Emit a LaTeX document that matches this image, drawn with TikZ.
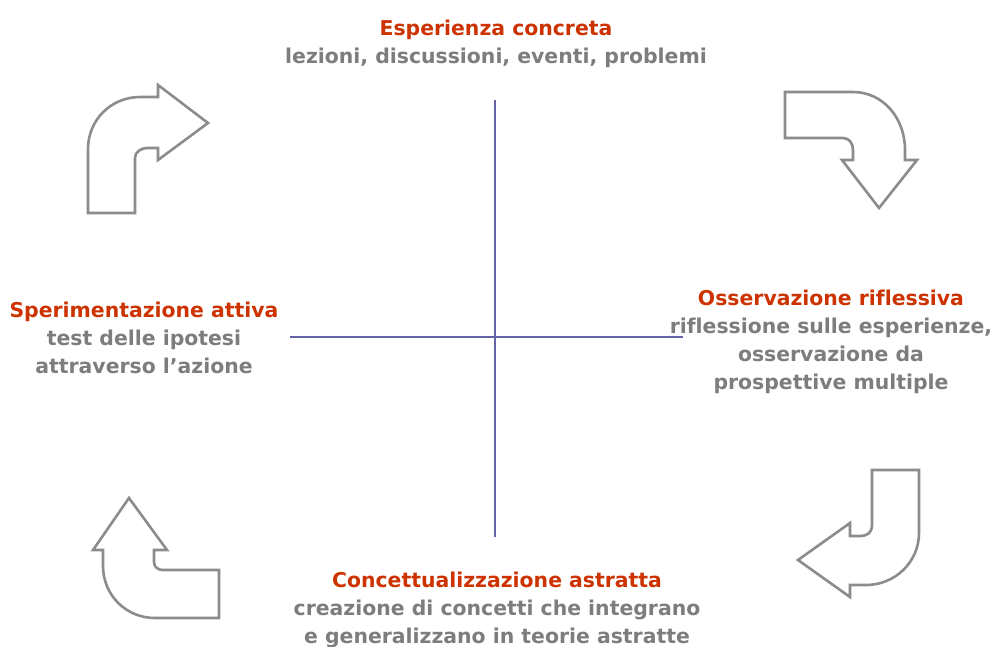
\documentclass[tikz,border=0pt]{standalone}
\usepackage{fontspec}
\setmainfont[Ligatures=NoCommon]{DejaVu Sans}
\definecolor{titlered}{RGB}{204,51,0}
\definecolor{bodygray}{RGB}{125,125,125}
\definecolor{axisblue}{RGB}{100,100,165}
\definecolor{arrowgray}{RGB}{140,140,140}
\begin{document}
\begin{tikzpicture}[x=1pt,y=-1pt,
  titletext/.style={anchor=base,inner sep=0pt,text=titlered,font=\fontsize{20.4}{28}\selectfont\bfseries},
  bodytext/.style={anchor=base,inner sep=0pt,text=bodygray,font=\fontsize{20.4}{28}\selectfont\bfseries},
  axisline/.style={draw=axisblue,line width=2pt},
  cyclearrow/.style={draw=arrowgray,fill=white,line width=2.6pt,line join=miter}]
\useasboundingbox (0,0) rectangle (992,646);
\fill[white] (0,0) rectangle (992,646);

% axes
\coordinate (vtop) at (495,100);
\coordinate (vbot) at (495,537);
\coordinate (hleft) at (290,337);
\coordinate (hright) at (683,337);
\draw[axisline] (vtop) -- (vbot);
\draw[axisline] (hleft) -- (hright);

% top-left arrow (up then right)
\draw[cyclearrow] (88,213) -- (135,213) -- (135,158) .. controls (135,152) and (141,148) .. (147,148)
  -- (158,148) -- (158,160) -- (208,123) -- (158,85) -- (158,97) -- (140,97)
  .. controls (111,97) and (88,120) .. (88,149) -- cycle;

% top-right arrow (right then down)
\draw[cyclearrow] (785,92) -- (853,92) .. controls (883,92) and (905,118) .. (905,150)
  -- (905,160) -- (917,160) -- (879,208) -- (842,160) -- (853,160) -- (853,150)
  .. controls (853,143) and (849,138) .. (843,138) -- (785,138) -- cycle;

% bottom-right arrow (down then left)
\draw[cyclearrow] (872,470) -- (919,470) -- (919,533) .. controls (919,562) and (895,585) .. (866,585)
  -- (850,585) -- (850,597) -- (798,560) -- (850,523) -- (850,536) -- (861,536)
  .. controls (867,536) and (872,532) .. (872,526) -- cycle;

% bottom-left arrow (left then up)
\draw[cyclearrow] (129,498) -- (167,550) -- (154,550) -- (154,562) .. controls (154,567) and (158,570) .. (163,570)
  -- (219,570) -- (219,618) -- (155,618) .. controls (126,618) and (103,595) .. (103,566)
  -- (103,550) -- (93,550) -- cycle;

% texts
\node[titletext] (t1) at (496,35) {Esperienza concreta};
\node[bodytext] (b1a) at (496,63) {lezioni, discussioni, eventi, problemi};

\node[titletext] (t2) at (831,305) {Osservazione riflessiva};
\node[bodytext] (b2a) at (831,333) {riflessione sulle esperienze,};
\node[bodytext] (b2b) at (831,361) {osservazione da};
\node[bodytext] (b2c) at (831,389) {prospettive multiple};

\node[titletext] (t3) at (497,587) {Concettualizzazione astratta};
\node[bodytext] (b3a) at (497,615) {creazione di concetti che integrano};
\node[bodytext] (b3b) at (497,643) {e generalizzano in teorie astratte};

\node[titletext] (t4) at (144,317) {Sperimentazione attiva};
\node[bodytext] (b4a) at (144,345) {test delle ipotesi};
\node[bodytext] (b4b) at (144,373) {attraverso l’azione};
\end{tikzpicture}
\end{document}
